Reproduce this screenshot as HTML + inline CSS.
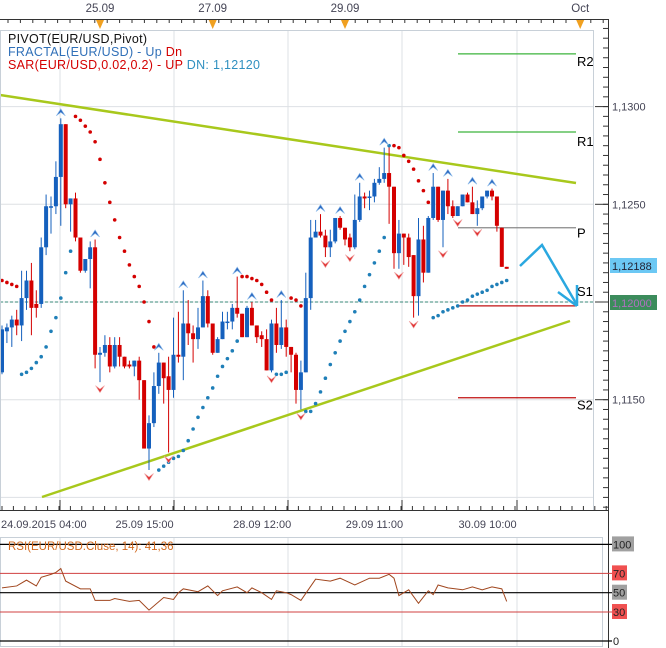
<!DOCTYPE html>
<html><head><meta charset="utf-8">
<style>
body{margin:0;background:#fff;}
svg{display:block;font-family:"Liberation Sans",sans-serif;}
</style></head>
<body>
<svg id="chart" width="666" height="648" viewBox="0 0 666 648" xmlns="http://www.w3.org/2000/svg">
<rect x="0" y="0" width="666" height="648" fill="#fff"/>
<g id="grid"></g>
<g id="trend">
<line x1="0" y1="95" x2="576" y2="183" stroke="#a8c81c" stroke-width="2.5"/>
<line x1="42" y1="497" x2="570" y2="321" stroke="#a8c81c" stroke-width="2.5"/>
</g>
<g id="pivots"></g>
<line x1="0" y1="302" x2="600" y2="302" stroke="#3a8a7a" stroke-width="1" stroke-dasharray="3,2"/>
<g id="candles"></g>
<g id="sar"></g>
<g id="fractals"></g>
<g fill="none" stroke="#2aa8e0" stroke-width="2.5">
<polyline points="520,266 542,245 577,305"/>
<line x1="558" y1="292" x2="577" y2="306"/>
<line x1="577" y1="285" x2="577" y2="306"/>
</g>
<rect x="0.5" y="30.5" width="593" height="480" fill="none" stroke="#c8d0d8"/>
<g id="topaxis"></g>
<g id="raxis"></g>
<g id="baxis"></g>
<g font-size="12.5" letter-spacing="0.3">
<text x="8" y="43" fill="#111">PIVOT(EUR/USD,Pivot)</text>
<text x="8" y="56" fill="#3070b8">FRACTAL(EUR/USD) -  Up <tspan fill="#d40000">Dn</tspan></text>
<text x="8" y="69" fill="#d40000">SAR(EUR/USD,0.02,0.2) -  UP <tspan fill="#3090c0"> DN: 1,12120</tspan></text>
</g>
<g id="rsi"></g>
</svg>
<script>
const opens=[1.1164,1.1185,1.1187,1.1191,1.1188,1.1202,1.1211,1.1199,1.1199,1.1228,1.1249,1.1249,1.1264,1.1291,1.1250,1.1253,1.1233,1.1216,1.1222,1.1228,1.1173,1.1174,1.1178,1.1167,1.1178,1.1172,1.1168,1.1167,1.1170,1.1160,1.1125,1.1138,1.1157,1.1169,1.1162,1.1155,1.1173,1.1172,1.1189,1.1184,1.1181,1.1187,1.1203,1.1189,1.1174,1.1181,1.1190,1.1190,1.1197,1.1194,1.1182,1.1197,1.1188,1.1183,1.1181,1.1165,1.1189,1.1178,1.1187,1.1177,1.1173,1.1155,1.1164,1.1202,1.1233,1.1236,1.1234,1.1228,1.1231,1.1243,1.1238,1.1233,1.1228,1.1242,1.1254,1.1254,1.1254,1.1261,1.1263,1.1266,1.1259,1.1225,1.1235,1.1233,1.1224,1.1203,1.1232,1.1215,1.1243,1.1259,1.1242,1.1257,1.1249,1.1244,1.1249,1.1255,1.1251,1.1245,1.1248,1.1254,1.1257,1.1254,1.1238,1.1218];
const closes=[1.1186,1.1187,1.1191,1.1188,1.1202,1.1211,1.1197,1.1197,1.1228,1.1249,1.1249,1.1264,1.1291,1.1250,1.1253,1.1233,1.1216,1.1222,1.1228,1.1173,1.1174,1.1178,1.1167,1.1178,1.1172,1.1167,1.1167,1.1170,1.1160,1.1125,1.1138,1.1157,1.1169,1.1161,1.1155,1.1173,1.1172,1.1189,1.1184,1.1181,1.1187,1.1203,1.1189,1.1174,1.1181,1.1190,1.1190,1.1197,1.1194,1.1182,1.1197,1.1188,1.1182,1.1181,1.1165,1.1189,1.1178,1.1187,1.1177,1.1173,1.1155,1.1164,1.1202,1.1233,1.1236,1.1234,1.1228,1.1231,1.1243,1.1238,1.1232,1.1228,1.1242,1.1254,1.1253,1.1254,1.1261,1.1263,1.1266,1.1259,1.1225,1.1235,1.1233,1.1223,1.1203,1.1232,1.1215,1.1243,1.1259,1.1242,1.1257,1.1249,1.1244,1.1249,1.1255,1.1251,1.1245,1.1248,1.1254,1.1257,1.1254,1.1239,1.1218,1.1217];
const highs=[1.1188,1.1189,1.1193,1.1196,1.1216,1.1216,1.1220,1.1206,1.1233,1.1255,1.1254,1.1272,1.1294,1.1291,1.1253,1.1256,1.1233,1.1222,1.1231,1.1232,1.1177,1.1183,1.1182,1.1182,1.1182,1.1172,1.1170,1.1170,1.1172,1.1160,1.1142,1.1164,1.1174,1.1169,1.1172,1.1192,1.1195,1.1206,1.1201,1.1188,1.1197,1.1211,1.1206,1.1189,1.1182,1.1195,1.1195,1.1199,1.1213,1.1194,1.1198,1.1200,1.1188,1.1185,1.1186,1.1191,1.1197,1.1201,1.1191,1.1177,1.1174,1.1170,1.1215,1.1242,1.1242,1.1245,1.1237,1.1237,1.1243,1.1244,1.1238,1.1235,1.1255,1.1261,1.1256,1.1257,1.1263,1.1269,1.1279,1.1280,1.1259,1.1242,1.1235,1.1235,1.1224,1.1243,1.1239,1.1244,1.1266,1.1259,1.1257,1.1263,1.1252,1.1249,1.1255,1.1256,1.1259,1.1252,1.1254,1.1257,1.1258,1.1254,1.1238,1.1218];
const lows=[1.1163,1.1179,1.1177,1.1183,1.1180,1.1196,1.1183,1.1192,1.1197,1.1224,1.1235,1.1245,1.1239,1.1248,1.1236,1.1231,1.1215,1.1215,1.1207,1.1166,1.1159,1.1172,1.1164,1.1166,1.1167,1.1166,1.1166,1.1162,1.1150,1.1125,1.1114,1.1136,1.1153,1.1148,1.1123,1.1151,1.1169,1.1160,1.1178,1.1169,1.1176,1.1187,1.1187,1.1173,1.1174,1.1181,1.1186,1.1186,1.1192,1.1182,1.1182,1.1188,1.1179,1.1177,1.1165,1.1164,1.1174,1.1176,1.1172,1.1164,1.1148,1.1145,1.1164,1.1196,1.1233,1.1233,1.1223,1.1223,1.1230,1.1237,1.1229,1.1226,1.1227,1.1241,1.1248,1.1247,1.1251,1.1260,1.1261,1.1240,1.1217,1.1217,1.1219,1.1218,1.1192,1.1193,1.1210,1.1215,1.1242,1.1241,1.1228,1.1245,1.1243,1.1244,1.1249,1.1251,1.1245,1.1239,1.1247,1.1253,1.1252,1.1236,1.1218,1.1217];
const sarValues=[1.1211,1.1210,1.1209,1.1208,1.1163,1.1164,1.1166,1.1169,1.1172,1.1177,1.1185,1.1192,1.1202,1.1215,1.1226,1.1295,1.1293,1.1290,1.1287,1.1282,1.1273,1.1261,1.1251,1.1242,1.1233,1.1226,1.1219,1.1213,1.1208,1.1200,1.1190,1.1177,1.1114,1.1116,1.1118,1.1120,1.1121,1.1124,1.1129,1.1135,1.1141,1.1146,1.1151,1.1156,1.1162,1.1167,1.1171,1.1175,1.1180,1.1213,1.1213,1.1212,1.1211,1.1209,1.1205,1.1201,1.1163,1.1163,1.1164,1.1202,1.1201,1.1198,1.1144,1.1144,1.1148,1.1154,1.1161,1.1168,1.1174,1.1180,1.1185,1.1190,1.1195,1.1201,1.1208,1.1214,1.1220,1.1226,1.1233,1.1280,1.1280,1.1279,1.1275,1.1272,1.1268,1.1262,1.1257,1.1251,1.1192,1.1193,1.1195,1.1196,1.1197,1.1198,1.1200,1.1201,1.1203,1.1204,1.1205,1.1206,1.1208,1.1209,1.1210,1.1211];
const fractalUp=[12,19,32,37,41,48,51,57,65,69,73,78,88,91,96,100];
const fractalDn=[20,30,34,55,61,66,71,81,84,90,93,97];
const pivotNames=["R2","R1","P","S1","S2"];
const pivotValues=[1.1327,1.1287,1.1238,1.1198,1.1151];
const priceTicks=[1.1300,1.1250,1.1200,1.1150];
const priceTickLabels=["1,1300","1,1250","1,1200","1,1150"];
const bottomLabels=["24.09.2015 04:00","25.09 15:00","28.09 12:00","29.09 11:00","30.09 10:00"];
const bottomIdx=[12,35,59,82,105];
const topLabels=["25.09","27.09","29.09","Oct"];
const topIdx=[20,43,70,118];
const rsiIdx=[0,3,5,7,8,10,11,12,13,16,18,19,22,23,26,28,30,33,35,36,37,40,42,44,45,48,50,51,53,55,56,58,59,61,64,67,69,72,75,77,79,80,81,83,85,87,88,89,91,94,96,98,100,102,103];
const rsiVals=[55,57,63,57,66,69,71,75,62,54,54,42,42,44,41,42,32,45,43,50,54,51,57,47,52,56,50,55,50,43,52,50,48,42,64,62,65,58,65,65,69,65,47,53,39,52,48,58,55,53,56,53,56,54,41];
const rsiLevels=[100,70,50,30,0];

const NS="http://www.w3.org/2000/svg";
function mk(tag,attrs,parent,txt){const e=document.createElementNS(NS,tag);for(const k in attrs)e.setAttribute(k,attrs[k]);if(txt!==undefined)e.textContent=txt;parent.appendChild(e);return e;}
const X=i=>2+i*4.9;
const Y=p=>302-(p-1.12)*19540;
const RY=v=>641-v*0.966;
const grid=document.getElementById('grid');
[60,174,288,402,517].forEach(x=>{const l=mk('line',{x1:x,y1:30,x2:x,y2:510,stroke:'#dde0e4'},grid);

});
priceTicks.concat([1.1100]).forEach(p=>{const l=mk('line',{x1:0,y1:Y(p),x2:594,y2:Y(p),stroke:'#dde0e4'},grid);

});

const pv=document.getElementById('pivots');
const labelOff=[12,14,10,-10,12];
pivotNames.forEach((n,k)=>{const col=k<2?'#3cb43c':(k==2?'#888':'#c01010');
const l=mk('line',{x1:458,x2:576,y1:Y(pivotValues[k]),y2:Y(pivotValues[k]),stroke:col,'stroke-width':1.2},pv);


const t=mk('text',{x:577,y:Y(pivotValues[k])+labelOff[k],'font-size':13,fill:'#000'},pv,n);

});

const cg=document.getElementById('candles');
for(let i=0;i<opens.length;i++){const up=closes[i]>=opens[i];const col=up?'#1560bd':'#d40000';const x=X(i);
const w=mk('line',{x1:x,x2:x,y1:Y(highs[i]),y2:Y(lows[i]),stroke:col,'stroke-width':1},cg);


const t=Y(Math.max(opens[i],closes[i])),b=Y(Math.min(opens[i],closes[i]));
const r=mk('rect',{x:x-2,y:t,width:4,height:Math.max(1.5,b-t),fill:col},cg);

}

const sg=document.getElementById('sar');
sarValues.forEach((s,i)=>{const red=s>highs[i];const c=mk('circle',{cx:X(i),cy:Y(s),r:1.8,fill:red?'#d40000':'#1f7fb8'},sg);

});

const fg=document.getElementById('fractals');
fractalUp.forEach(i=>{const x=X(i),y=Y(highs[i])-6;const p=mk('path',{d:`M${x-4.5},${y+3.5} L${x},${y-3.5} L${x+4.5},${y+3.5} L${x},${y} Z`,fill:'#2a68c0',stroke:'#8ab8e8','stroke-width':0.6},fg);

});
fractalDn.forEach(i=>{const x=X(i),y=Y(lows[i])+7;const p=mk('path',{d:`M${x-4.5},${y-3.5} L${x},${y+3.5} L${x+4.5},${y-3.5} L${x},${y} Z`,fill:'#e03030',stroke:'#f0a0a0','stroke-width':0.6},fg);

});

const ta=document.getElementById('topaxis');
mk('line',{x1:0,y1:19.5,x2:608,y2:19.5,stroke:'#333'},ta);
for(let x=8;x<608;x+=12.4){mk('line',{x1:x,y1:19,x2:x,y2:23,stroke:'#333'},ta);}
topLabels.forEach((s,k)=>{const x=X(topIdx[k])-0;
const t=mk('text',{x:x,y:12,'font-size':11.5,fill:'#445','text-anchor':'middle'},ta,s);


const m=mk('path',{d:`M${x-4},20 L${x+4},20 L${x},29 Z`,fill:'#f0a020'},ta);

});

const ra=document.getElementById('raxis');
mk('line',{x1:608.5,y1:19,x2:608.5,y2:648,stroke:'#333'},ra);
for(let p=1.1095;p<=1.1355;p+=0.0005){const y=Y(p);if(y<20||y>510)continue;mk('line',{x1:603,x2:608,y1:y,y2:y,stroke:'#333'},ra);}
priceTicks.forEach((p,k)=>{mk('line',{x1:595,x2:608,y1:Y(p),y2:Y(p),stroke:'#333'},ra);
if(k==2)return;
const t=mk('text',{x:612,y:Y(p)+4,'font-size':11,fill:'#445'},ra,priceTickLabels[k]);

});
const b1=mk('rect',{x:610,y:258,width:47,height:15,fill:'#6cc8f4'},ra);


mk('text',{x:612,y:270,'font-size':11,fill:'#223'},ra,'1,12188');
const b2=mk('rect',{x:610,y:295,width:47,height:15,fill:'#3c8c5c'},ra);


mk('text',{x:612,y:307,'font-size':11,fill:'#b070c0'},ra,'1,12000');

const ba=document.getElementById('baxis');
mk('line',{x1:0,y1:510.5,x2:608,y2:510.5,stroke:'#333'},ba);
for(let x=2;x<608;x+=11.4){mk('line',{x1:x,y1:506,x2:x,y2:510,stroke:'#333'},ba);}
[60,174,288,402,517].forEach(x=>mk('line',{x1:x,y1:500,x2:x,y2:510,stroke:'#333'},ba));
bottomLabels.forEach((s,k)=>{const t=mk('text',{x:k==0?1:X(bottomIdx[k])-58,y:528,'font-size':11,fill:'#445'},ba,s);

});

const rg=document.getElementById('rsi');
mk('rect',{x:0.5,y:537.5,width:602,height:109,fill:'#fff',stroke:'#c8d0d8'},rg);
[60,174,288,402,517].forEach(x=>mk('line',{x1:x,y1:538,x2:x,y2:646,stroke:'#dde0e4'},rg));
rsiLevels.forEach(v=>{const c=(v==70||v==30)?'#d04040':'#000';
const l=mk('line',{x1:0,x2:612,y1:RY(v),y2:RY(v),stroke:c,'stroke-width':v==70||v==30?1:1.2},rg);


const bg=(v==70||v==30)?'#f05050':(v==0?'#fff':'#a0a0a0');
const w=v==100?22:(v==0?8:15);
mk('rect',{x:612,y:RY(v)-8,width:w,height:15,fill:bg},rg);
const t=mk('text',{x:613,y:RY(v)+4,'font-size':11,fill:'#222'},rg,String(v));

});
const rl=mk('polyline',{points:rsiIdx.map((i,k)=>X(i)+','+RY(rsiVals[k])).join(' '),fill:'none',stroke:'#a0461e','stroke-width':1},rg);


const rt=mk('text',{x:8,y:550,'font-size':11.5,fill:'#d2691e'},rg,'RSI(EUR/USD.Cluse, 14): 41,36');


</script>
</body></html>
